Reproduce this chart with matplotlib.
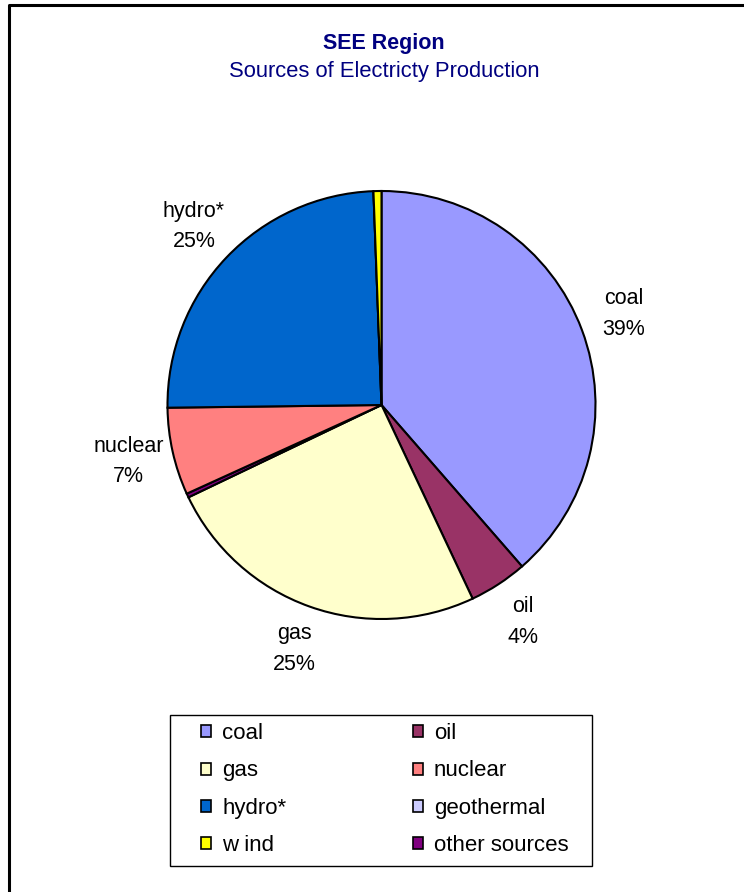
import matplotlib
matplotlib.use("Agg")
import matplotlib.pyplot as plt
from matplotlib.patches import Patch, Rectangle
from matplotlib.lines import Line2D

plt.rcParams['font.family'] = ['Liberation Sans', 'DejaVu Sans']

# pie order (clockwise from 12 o'clock)
sources = ['coal', 'oil', 'gas', 'other sources', 'nuclear', 'hydro*', 'geothermal', 'w ind']
shares = [38.6, 4.4, 24.9, 0.3, 6.6, 24.6, 0.0, 0.6]
colors = ['#9999FF', '#993366', '#FFFFCC', '#800080', '#FF8080', '#0066CC', '#CCCCFF', '#FFFF00']
show_label = [True, True, True, False, True, True, False, False]

# legend order (row by row, two columns)
legend_order = ['coal', 'oil', 'gas', 'nuclear', 'hydro*', 'geothermal', 'w ind', 'other sources']

W, H = 744, 892
fig = plt.figure(figsize=(W / 100, H / 100), dpi=100)

cx, cy, r = 381.5, 405, 214
ax = fig.add_axes([(cx - r) / W, (H - cy - r) / H, 2 * r / W, 2 * r / H])

labels = []
for s, v, on in zip(sources, shares, show_label):
    labels.append(f"{s}\n{round(v):.0f}%" if on else '')

wedges, texts = ax.pie(shares, colors=colors, labels=labels, startangle=90,
                       counterclock=False, labeldistance=1.21, radius=1,
                       wedgeprops=dict(edgecolor='black', linewidth=1.5),
                       textprops=dict(fontsize=15.5, linespacing=1.6))
for w in wedges:
    w.set_clip_on(False)
for t in texts:
    t.set_ha('center')
    t.set_va('center')
ax.set_xlim(-1, 1)
ax.set_ylim(-1, 1)
ax.set_aspect('equal')
ax.axis('off')

fig.text(384 / W, 1 - 43 / H, 'SEE Region', ha='center', va='center',
         fontsize=15.5, fontweight='bold', color='#000080')
fig.text(384 / W, 1 - 72 / H, 'Sources of Electricty Production', ha='center', va='center',
         fontsize=15.8, color='#000080')

# legend: matplotlib fills columns first, so reorder
col1 = legend_order[0::2]
col2 = legend_order[1::2]
handles = []
for name in col1 + col2:
    i = sources.index(name)
    handles.append(Patch(facecolor=colors[i], edgecolor='black', linewidth=1.2, label=name))
leg = fig.legend(handles=handles, ncol=2, loc='upper left',
                 bbox_to_anchor=(201 / W, 1 - 723 / H),
                 fontsize=16, frameon=False,
                 handlelength=0.45, handleheight=0.45, handletextpad=0.5,
                 labelspacing=0.74, borderpad=0, borderaxespad=0, columnspacing=5.7)
fig.add_artist(Rectangle((170 / W, 1 - 866 / H), 422 / W, 151 / H, transform=fig.transFigure,
                         facecolor='none', edgecolor='black', linewidth=1.0))

# outer chart border (top and left edges visible)
fig.add_artist(Line2D([9 / W, 9 / W, 1], [0, 1 - 5 / H, 1 - 5 / H],
                      transform=fig.transFigure, color='black', linewidth=2.2))

fig.savefig('out.png', dpi=100, facecolor='white')
